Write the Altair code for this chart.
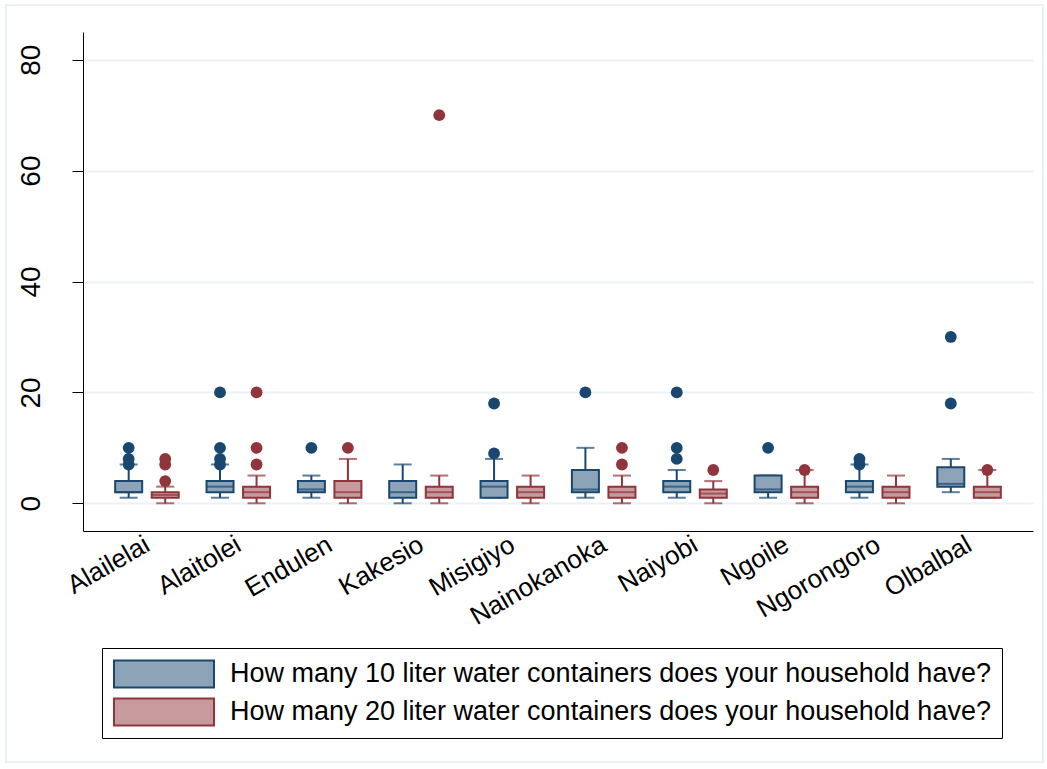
import altair as alt
import pandas as pd

# Villages (x categories)
villages = ["Alailelai", "Alaitolei", "Endulen", "Kakesio", "Misigiyo",
            "Nainokanoka", "Naiyobi", "Ngoile", "Ngorongoro", "Olbalbal"]

series = ["How many 10 liter water containers does your household have?",
          "How many 20 liter water containers does your household have?"]

# Box statistics per village: 10 liter containers
ten_lower = [1, 1, 1, 0, 1, 1, 1, 1, 1, 2]
ten_q1 = [2, 2, 2, 1, 1, 2, 2, 2, 2, 3]
ten_median = [2, 3, 2.5, 2, 3, 2.5, 3, 2.5, 3, 3.5]
ten_q3 = [4, 4, 4, 4, 4, 6, 4, 5, 4, 6.5]
ten_upper = [7, 7, 5, 7, 8, 10, 6, 5, 7, 8]
ten_outliers = [[7, 8, 10], [7, 8, 10, 20], [10], [], [9, 18],
                [20], [8, 10, 20], [10], [7, 8], [18, 30]]

# Box statistics per village: 20 liter containers
twenty_lower = [0, 0, 0, 0, 0, 0, 0, 0, 0, 1]
twenty_q1 = [1, 1, 1, 1, 1, 1, 1, 1, 1, 1]
twenty_median = [1.5, 2, 2, 2, 2, 2, 1.75, 2, 2, 2]
twenty_q3 = [2, 3, 4, 3, 3, 3, 2.5, 3, 3, 3]
twenty_upper = [3, 5, 8, 5, 5, 5, 4, 6, 5, 6]
twenty_outliers = [[4, 7, 8], [7, 10, 20], [10], [70], [],
                   [7, 10], [6], [6], [], [6]]

dark = ["#1A476F", "#90353B"]
light = ["#8CA3B8", "#C79A9D"]
grid = "#EAF2F3"
font = "Liberation Sans"

stats_rows = []
outlier_rows = []
for s, (lo, q1, md, q3, up, outs) in zip(series, [
        (ten_lower, ten_q1, ten_median, ten_q3, ten_upper, ten_outliers),
        (twenty_lower, twenty_q1, twenty_median, twenty_q3, twenty_upper, twenty_outliers)]):
    for i, v in enumerate(villages):
        stats_rows.append(dict(village=v, series=s, lower=lo[i], q1=q1[i],
                               median=md[i], q3=q3[i], upper=up[i]))
        for o in outs[i]:
            outlier_rows.append(dict(village=v, series=s, value=o))

stats = pd.DataFrame(stats_rows)
outliers = pd.DataFrame(outlier_rows)

x_enc = alt.X("village:N", sort=villages,
              scale=alt.Scale(paddingInner=0.2, paddingOuter=0.3),
              axis=alt.Axis(title=None, labelAngle=330, labelAlign="right",
                            labelBaseline="top", ticks=False, labelPadding=0,
                            labelOffset=-6,
                            labelFontSize=26, labelFont=font, labelColor="black",
                            domainColor="black", domainWidth=1, grid=False))
xo_enc = alt.XOffset("series:N", sort=series,
                     scale=alt.Scale(paddingInner=0, paddingOuter=0))
y_scale = alt.Scale(domain=[-5, 85], nice=False, zero=False)
y_axis = alt.Axis(title=None, values=[0, 20, 40, 60, 80], tickSize=11,
                  tickColor="black", domainColor="black", labelAngle=270,
                  labelAlign="center", labelBaseline="bottom", labelPadding=27,
                  labelFontSize=28, labelFont=font, labelColor="black",
                  gridColor=grid, gridWidth=2)
# whiskers, caps, medians and outlier dots: dark series colours, no legend
# (domain listed in reverse so this scale is kept apart from the box legend)
dark_color = alt.Color("series:N",
                       scale=alt.Scale(domain=series[::-1], range=dark[::-1]),
                       legend=None)

base = alt.Chart(stats)

whiskers = base.mark_rule(strokeWidth=2).encode(
    x=x_enc, xOffset=xo_enc,
    y=alt.Y("lower:Q", scale=y_scale, axis=y_axis), y2="upper:Q",
    color=dark_color)

caps_low = base.mark_tick(size=18, thickness=2).encode(
    x=x_enc, xOffset=xo_enc, y=alt.Y("lower:Q", scale=y_scale), color=dark_color)
caps_high = base.mark_tick(size=18, thickness=2).encode(
    x=x_enc, xOffset=xo_enc, y=alt.Y("upper:Q", scale=y_scale), color=dark_color)

legend = alt.Legend(
    orient="none", legendX=19, legendY=616, direction="vertical", title=None,
    symbolType="M-1,-0.27L1,-0.27L1,0.27L-1,0.27Z", symbolSize=10000,
    symbolStrokeWidth=2, symbolOpacity=1, labelFontSize=27, labelFont=font,
    labelColor="black", labelOffset=15, labelLimit=2000, strokeColor="black",
    fillColor="white", padding=11, rowPadding=8, clipHeight=30)

boxes = base.mark_bar(size=27, strokeWidth=2, opacity=1).encode(
    x=x_enc, xOffset=xo_enc,
    y=alt.Y("q1:Q", scale=y_scale), y2="q3:Q",
    fill=alt.Fill("series:N", sort=series,
                  scale=alt.Scale(domain=series, range=light), legend=legend),
    stroke=alt.Stroke("series:N", sort=series,
                      scale=alt.Scale(domain=series, range=dark), legend=legend))

medians = base.mark_tick(size=26, thickness=2).encode(
    x=x_enc, xOffset=xo_enc, y=alt.Y("median:Q", scale=y_scale), color=dark_color)

points = alt.Chart(outliers).mark_circle(size=140, opacity=1).encode(
    x=x_enc, xOffset=xo_enc, y=alt.Y("value:Q", scale=y_scale), color=dark_color)

# light outline around the whole graph region
frame = alt.Chart(pd.DataFrame({"k": [0]})).mark_rect(
    fillOpacity=0, stroke=grid, strokeWidth=2).encode(
    x=alt.value(-77), x2=alt.value(960), y=alt.value(-27), y2=alt.value(730))

chart = alt.layer(frame, whiskers, caps_low, caps_high, boxes, medians, points).properties(
    width=950, height=499,
    autosize=alt.AutoSizeParams(type="none"),
    padding={"left": 83, "top": 32, "right": 14, "bottom": 238},
    background="white",
).configure_view(stroke=None)

chart.save("out.html", embed_options={"renderer": "svg", "actions": False})
